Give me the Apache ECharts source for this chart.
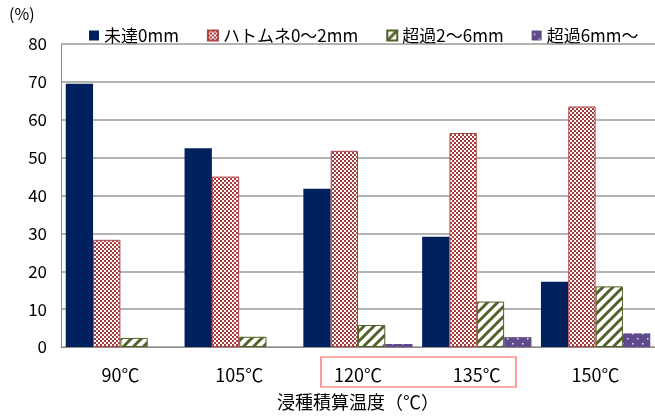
<!DOCTYPE html>
<html>
<head>
<meta charset="utf-8">
<script src="https://cdn.jsdelivr.net/npm/echarts@6/dist/echarts.min.js"></script>
<style>
  html, body { margin: 0; padding: 0; background: #fff; }
  #chart { width: 655px; height: 416px; }
</style>
</head>
<body>
<div id="chart"></div>
<script>
// Germination length distribution by accumulated soaking temperature
const categories = ['90℃', '105℃', '120℃', '135℃', '150℃'];
const seriesNames = ['未達0mm', 'ハトムネ0～2mm', '超過2～6mm', '超過6mm～'];
const notReached = [69.5, 52.5, 41.8, 29.1, 17.2];
const hatomune = [28.3, 45.0, 51.8, 56.5, 63.5];
const over2to6 = [2.4, 2.7, 5.8, 12.0, 16.0];
const over6 = [0, 0, 0.8, 2.6, 3.6];
const yTicks = [0, 10, 20, 30, 40, 50, 60, 70, 80];

const FONT = '"Noto Sans CJK JP", "Noto Sans", sans-serif';

// small repeating tiles for hatched fills
function tile(w, h, draw) {
  const c = document.createElement('canvas');
  c.width = w; c.height = h;
  const ctx = c.getContext('2d');
  draw(ctx);
  return { image: c, repeat: 'repeat' };
}
const checker = tile(4, 4, ctx => {
  ctx.fillStyle = '#ffffff'; ctx.fillRect(0, 0, 4, 4);
  ctx.fillStyle = '#A83A3A';
  ctx.fillRect(0, 0, 2, 2); ctx.fillRect(2, 2, 2, 2);
});
const stripes = tile(10, 10, ctx => {
  ctx.fillStyle = '#ffffff'; ctx.fillRect(0, 0, 10, 10);
  ctx.strokeStyle = '#4F6228'; ctx.lineWidth = 3;
  for (let k = -1; k <= 1; k++) {
    ctx.beginPath();
    ctx.moveTo(k * 10 - 1, 11);
    ctx.lineTo(k * 10 + 11, -1);
    ctx.stroke();
  }
});
const dots = tile(10, 10, ctx => {
  ctx.fillStyle = '#5F4B8B'; ctx.fillRect(0, 0, 10, 10);
  ctx.fillStyle = '#E8E4F0';
  ctx.fillRect(2, 3, 1.5, 1.5); ctx.fillRect(7, 8, 1.5, 1.5);
});

const chart = echarts.init(document.getElementById('chart'), null, { renderer: 'canvas' });
chart.setOption({
  animation: false,
  textStyle: { fontFamily: FONT },
  grid: { left: 61, right: -4, top: 44, bottom: 68 },
  legend: {
    top: 22, left: 84,
    icon: 'rect',
    itemWidth: 10, itemHeight: 10, itemGap: 28,
    textStyle: { fontSize: 17, color: '#000', fontFamily: FONT },
    data: seriesNames
  },
  xAxis: {
    type: 'category',
    data: categories,
    name: '浸種積算温度（℃）',
    nameLocation: 'middle',
    nameGap: 46,
    nameTextStyle: { fontSize: 18, color: '#000', fontFamily: FONT },
    axisLine: { lineStyle: { color: '#8c8c8c', width: 1 } },
    axisTick: { inside: true, length: 6, lineStyle: { color: '#8c8c8c' } },
    axisLabel: { fontSize: 18, color: '#000', margin: 19, fontFamily: FONT }
  },
  yAxis: {
    type: 'value',
    min: yTicks[0], max: yTicks[yTicks.length - 1], interval: 10,
    axisLine: { show: true, lineStyle: { color: '#8c8c8c', width: 1 } },
    axisTick: { show: false },
    splitLine: { lineStyle: { color: '#9a9a9a', width: 1.5 } },
    axisLabel: { fontSize: 17, color: '#000', margin: 14, fontFamily: FONT }
  },
  graphic: [
    { type: 'text', left: 9, top: 6,
      style: { text: '(%)', font: '16px ' + FONT, fill: '#000' } },
    { type: 'rect', shape: { x: 321, y: 357, width: 195, height: 30 },
      style: { fill: 'none', stroke: '#FF5A5A', lineWidth: 1.2 } }
  ],
  series: [
    { name: seriesNames[0], type: 'bar', data: notReached, barGap: '0%', barCategoryGap: '8%',
      itemStyle: { color: '#00205E' } },
    { name: seriesNames[1], type: 'bar', data: hatomune,
      itemStyle: { color: checker, borderColor: '#B04545', borderWidth: 1 } },
    { name: seriesNames[2], type: 'bar', data: over2to6,
      itemStyle: { color: stripes, borderColor: '#4F6228', borderWidth: 1 } },
    { name: seriesNames[3], type: 'bar', data: over6,
      itemStyle: { color: dots } }
  ]
});
</script>
</body>
</html>
